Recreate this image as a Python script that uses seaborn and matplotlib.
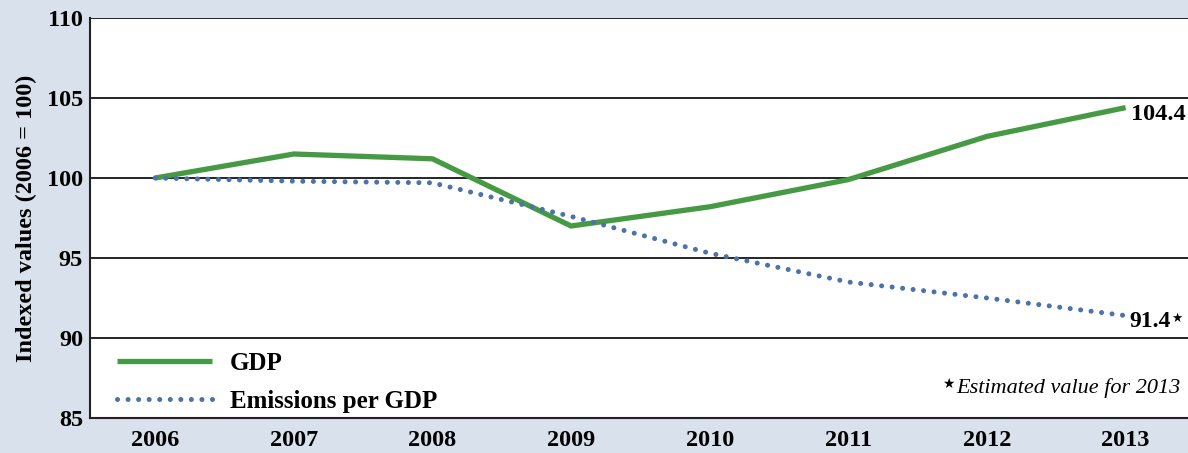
import numpy as np
import pandas as pd
import matplotlib
matplotlib.use("Agg")
import matplotlib.pyplot as plt
import seaborn as sns

# Data
years = [2006, 2007, 2008, 2009, 2010, 2011, 2012, 2013]
gdp = [100.0, 101.5, 101.2, 97.0, 98.2, 99.9, 102.6, 104.4]
emissions_per_gdp = [100.0, 99.8, 99.7, 97.6, 95.3, 93.5, 92.5, 91.4]
y_ticks = [85, 90, 95, 100, 105, 110]

green = "#469a43"
blue = "#4a72ab"
bg = "#d9e1ed"

sns.set_style("white")
plt.rcParams["font.family"] = ["Liberation Serif", "DejaVu Sans"]
plt.rcParams["font.weight"] = "bold"
plt.rcParams["text.color"] = "black"
plt.rcParams["axes.labelcolor"] = "black"
plt.rcParams["xtick.color"] = "black"
plt.rcParams["ytick.color"] = "black"

fig = plt.figure(figsize=(11.88, 4.53), dpi=100, facecolor=bg)
ax = fig.add_axes([90 / 1188, 1 - 418 / 453, 1 - 90 / 1188, 400 / 453])
ax.set_facecolor("white")

df = pd.DataFrame({"year": years, "GDP": gdp, "Emissions per GDP": emissions_per_gdp})

sns.lineplot(data=df, x="year", y="GDP", ax=ax, color=green, linewidth=3.8,
             label="GDP", solid_capstyle="butt", solid_joinstyle="miter")
sns.lineplot(data=df, x="year", y="Emissions per GDP", ax=ax, color=blue,
             linewidth=3.6, linestyle=(0, (0.01, 2.1)), dash_capstyle="round",
             label="Emissions per GDP")

ax.set_xlim(2005.53, 2013.45)
ax.set_ylim(85, 110)
ax.set_xticks(years)
ax.set_xticklabels([str(y) for y in years], fontsize=17.5, fontweight="bold")
ax.set_yticks(y_ticks)
ax.set_yticklabels([str(v) for v in y_ticks], fontsize=17.5, fontweight="bold")
ax.tick_params(axis="x", length=0, pad=9)
ax.tick_params(axis="y", length=0, pad=5)
ax.set_xlabel("")
ax.set_ylabel("Indexed values (2006 = 100)", fontsize=17.5, fontweight="bold", labelpad=7)

for v in y_ticks[1:]:
    ax.axhline(v, color="black", linewidth=1.2, zorder=0)

for s in ["top", "right"]:
    ax.spines[s].set_visible(False)
for s in ["left", "bottom"]:
    ax.spines[s].set_color("#222222")
    ax.spines[s].set_linewidth(1.5)

ax.annotate(f"{gdp[-1]:.1f}", (years[-1], gdp[-1]), xytext=(4, -5),
            textcoords="offset points", fontsize=17.5, fontweight="bold",
            va="center", ha="left")
t914 = ax.annotate(f"{emissions_per_gdp[-1]:.1f}", (years[-1], emissions_per_gdp[-1]),
                   xytext=(3, -4), textcoords="offset points", fontsize=17,
                   fontweight="bold", va="center", ha="left")
ax.annotate("\u2605", xy=(1, 0.62), xycoords=t914, xytext=(0, 0),
            textcoords="offset points", fontsize=9, ha="left", va="center")

note = ax.text(0.993, 0.075, "Estimated value for 2013", transform=ax.transAxes,
               fontsize=16, fontstyle="italic", fontweight="normal",
               ha="right", va="center")
ax.annotate("\u2605", xy=(0, 0.68), xycoords=note, xytext=(-1, 0),
            textcoords="offset points", fontsize=10, ha="right", va="center")

leg = ax.legend(loc="lower left", bbox_to_anchor=(0.02, 0.0), frameon=False,
                fontsize=18, handlelength=3.8, labelspacing=0.6,
                handletextpad=0.72, borderaxespad=0.0, borderpad=0.2)
for t in leg.get_texts():
    t.set_fontweight("bold")

fig.savefig("out.png", dpi=100, facecolor=bg)
